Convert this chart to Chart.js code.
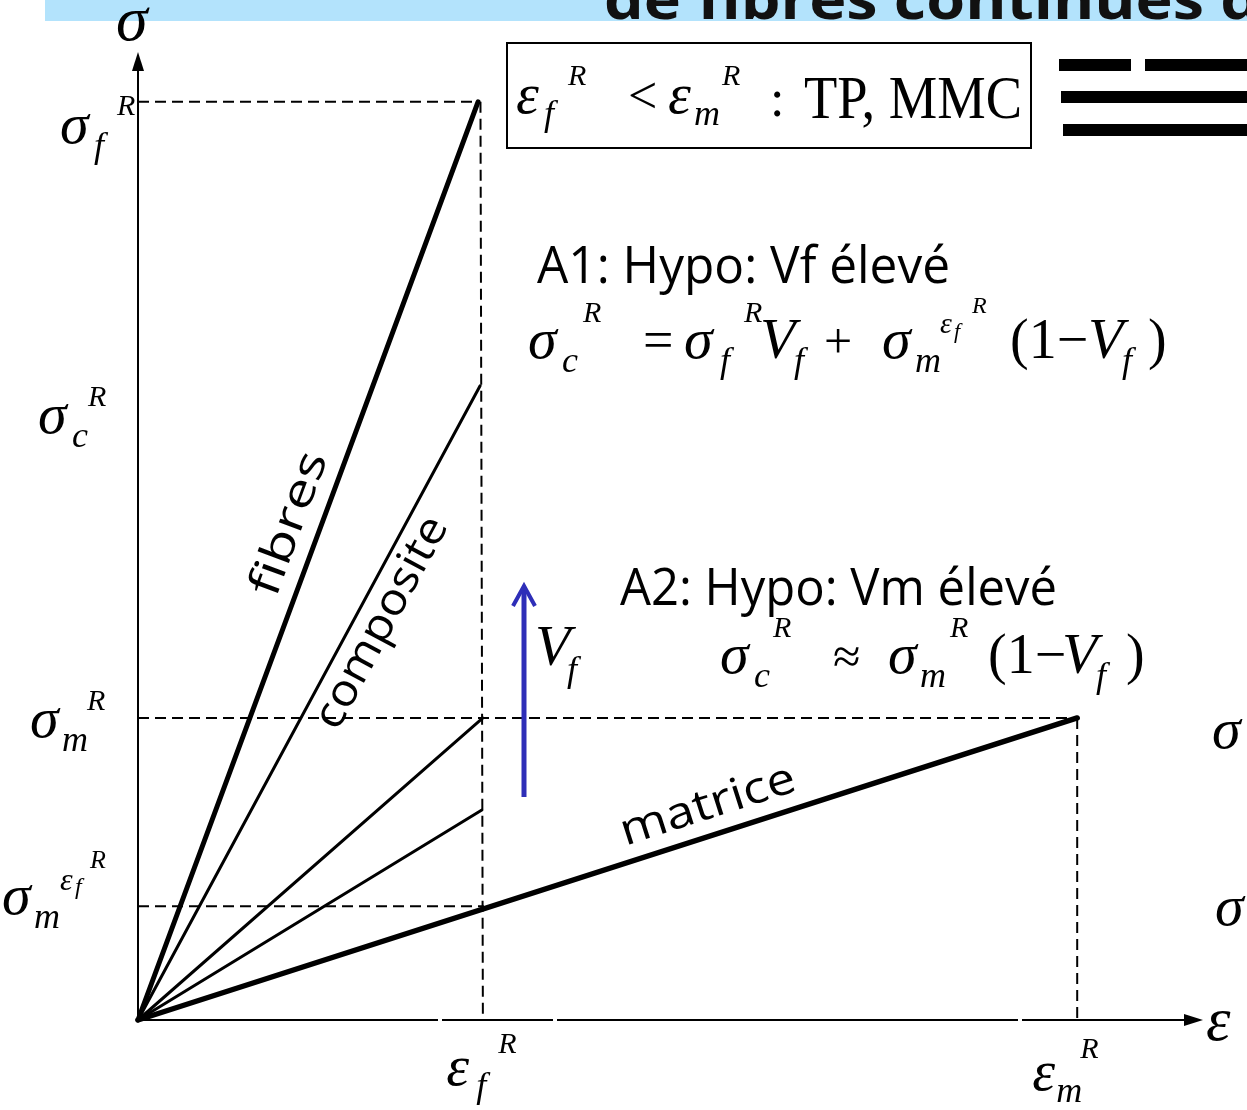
<!DOCTYPE html>
<html><head><meta charset="utf-8">
<script src="https://cdn.jsdelivr.net/npm/chart.js@4"></script>
<style>html,body{margin:0;padding:0;background:#fff;overflow:hidden}canvas{display:block}</style>
</head><body>
<canvas id="c" width="1247" height="1110"></canvas>
<script>
// ---- data (strain ε in units of εf^R, stress σ in units of σm^R) ----
const curveNames = ['fibres', 'composite', 'composite (Vf moyen)', 'composite (Vf faible)', 'matrice'];
const curveEndStrain = [0.983, 0.989, 0.997, 0.994, 2.715];
const curveEndStress = [3.04, 2.10, 1.00, 0.695, 1.00];
const curveLabels = ['fibres', 'composite', '', '', 'matrice'];

const strainTicks = [0.995, 2.715];            // εf^R, εm^R
const stressTicks = [3.04, 2.10, 1.00, 0.377]; // σf^R, σc^R, σm^R, σm^(εf^R)

const guideFrom = [[0, 3.04], [0.99, 3.04], [0, 1.00], [2.715, 1.00], [0, 0.377]];
const guideTo   = [[0.983, 3.04], [0.997, 0], [2.715, 1.00], [2.715, 0], [1.0, 0.377]];

const headerText = 'de fibres continues d';
const textA1 = 'A1: Hypo: Vf élevé';
const textA2 = 'A2: Hypo: Vm élevé';
const boxText = 'TP, MMC';

// ---- styles ----
const curveWidths = [5, 3, 3, 3, 5.5];
const MATH = '"Liberation Serif", "DejaVu Serif", serif';
const HAND = '"Open Sans", "DejaVu Sans", sans-serif';

const datasets = [];
curveNames.forEach((n, i) => {
  datasets.push({
    label: n,
    data: [{x: 0, y: 0}, {x: curveEndStrain[i], y: curveEndStress[i]}],
    showLine: true, borderColor: '#000', borderWidth: curveWidths[i],
    pointRadius: 0, clip: false, borderCapStyle: 'round', order: 1
  });
});
guideFrom.forEach((p, i) => {
  datasets.push({
    label: 'guide' + i,
    data: [{x: p[0], y: p[1]}, {x: guideTo[i][0], y: guideTo[i][1]}],
    showLine: true, borderColor: '#000', borderWidth: 2, borderDash: [11, 6],
    pointRadius: 0, clip: false, order: 2
  });
});

function put(ctx, s, x, y, size, italic, family) {
  ctx.font = (italic ? 'italic ' : '') + size + 'px ' + (family || MATH);
  ctx.fillText(s, x, y);
}
function fit(ctx, s, x, y, width, font, align) {
  ctx.save();
  ctx.font = font;
  const w = ctx.measureText(s).width;
  ctx.translate(x, y);
  ctx.scale(width / w, 1);
  ctx.textAlign = align || 'left';
  ctx.fillText(s, 0, 0);
  ctx.restore();
}
// base symbol with subscript & superscript
function sym(ctx, base, sub, sup, x, y, o) {
  o = o || {};
  const bs = o.bs || 58, ss = o.ss || 36, ps = o.ps || 30;
  put(ctx, base, x, y, bs, true);
  if (sub) put(ctx, sub, x + (o.subDx || bs * 0.55), y + (o.subDy || 12), ss, true);
  if (sup) put(ctx, sup, x + (o.supDx || bs * 0.95), y - (o.supDy || 30), ps, true);
}

const deco = {
  id: 'deco',
  beforeDatasetsDraw(chart) {
    const ctx = chart.ctx, xs = chart.scales.x, ys = chart.scales.y;
    const x0 = xs.getPixelForValue(0), y0 = ys.getPixelForValue(0);
    const xe = xs.getPixelForValue(xs.max), ye = ys.getPixelForValue(ys.max);
    ctx.save();
    ctx.fillStyle = '#fff'; ctx.fillRect(0, 0, chart.width, chart.height);
    // header band
    ctx.fillStyle = '#b3e3fc'; ctx.fillRect(45, 0, chart.width - 45, 21);
    ctx.fillStyle = '#111';
    ctx.font = 'bold 56px ' + HAND;
    const wPart = ctx.measureText('de fibres continues').width;
    ctx.save(); ctx.translate(604, 19); ctx.scale(600 / wPart, 1); ctx.fillText(headerText, 0, 0); ctx.restore();
    // axes
    ctx.strokeStyle = '#000'; ctx.lineWidth = 2;
    ctx.beginPath(); ctx.moveTo(x0, y0 + 1); ctx.lineTo(x0, ye + 14); ctx.stroke();
    ctx.fillStyle = '#000';
    ctx.beginPath(); ctx.moveTo(x0, ye - 3); ctx.lineTo(x0 - 6, ye + 16); ctx.lineTo(x0 + 6, ye + 16); ctx.closePath(); ctx.fill();
    ctx.beginPath(); ctx.moveTo(x0 - 2, y0); ctx.lineTo(xe - 12, y0); ctx.stroke();
    ctx.beginPath(); ctx.moveTo(xe + 3, y0); ctx.lineTo(xe - 16, y0 - 6); ctx.lineTo(xe - 16, y0 + 6); ctx.closePath(); ctx.fill();
    ctx.fillStyle = '#fff';
    [438, 553, 1018].forEach(g => ctx.fillRect(g, y0 - 2, 4, 4));
    ctx.restore();
  },
  afterDatasetsDraw(chart) {
    const ctx = chart.ctx, xs = chart.scales.x, ys = chart.scales.y;
    const px = v => xs.getPixelForValue(v), py = v => ys.getPixelForValue(v);
    const x0 = px(0), y0 = py(0), xe = px(xs.max), ye = py(ys.max);
    ctx.save();
    ctx.fillStyle = '#000'; ctx.textAlign = 'left'; ctx.textBaseline = 'alphabetic';
    // axis titles
    put(ctx, 'σ', x0 - 22, 40, 64, true);
    put(ctx, 'ε', xe + 6, y0 + 20, 62, true);
    // stress tick labels
    sym(ctx, 'σ', 'f', 'R', 60, py(stressTicks[0]) + 41, {subDx: 34, subDy: 14, supDx: 57, supDy: 28});
    sym(ctx, 'σ', 'c', 'R', 38, py(stressTicks[1]) + 47, {subDx: 34, subDy: 14, supDx: 50, supDy: 27});
    sym(ctx, 'σ', 'm', 'R', 30, py(stressTicks[2]) + 19, {subDx: 32, subDy: 14, supDx: 57, supDy: 27});
    sym(ctx, 'σ', 'm', null, 2, py(stressTicks[3]) + 8, {subDx: 32, subDy: 14});
    put(ctx, 'ε', 60, py(stressTicks[3]) - 16, 32, true);
    put(ctx, 'f', 75, py(stressTicks[3]) - 12, 24, true);
    put(ctx, 'R', 90, py(stressTicks[3]) - 38, 26, true);
    // strain tick labels
    sym(ctx, 'ε', 'f', 'R', px(strainTicks[0]) - 36, y0 + 65, {subDx: 30, subDy: 12, supDx: 52, supDy: 32});
    sym(ctx, 'ε', 'm', 'R', px(strainTicks[1]) - 45, y0 + 70, {subDx: 24, subDy: 12, supDx: 48, supDy: 32});
    // right-edge partial labels
    put(ctx, 'σ', 1212, 748, 58, true);
    put(ctx, 'σ', 1215, 925, 58, true);
    // curve labels
    ctx.fillStyle = '#000';
    const centers = [[290, 524], [382, 623], null, null, [708, 806]];
    const lens = [150, 235, 0, 0, 182];
    curveLabels.forEach((lab, i) => {
      if (!lab) return;
      const a = Math.atan2(py(curveEndStress[i]) - y0, px(curveEndStrain[i]) - x0);
      ctx.save();
      ctx.translate(centers[i][0], centers[i][1]);
      ctx.rotate(a);
      ctx.font = '500 44px ' + HAND;
      const w = ctx.measureText(lab).width;
      ctx.scale(lens[i] / w, 1);
      ctx.textAlign = 'center'; ctx.textBaseline = 'middle';
      ctx.fillText(lab, 0, 0);
      ctx.restore();
    });
    // box
    ctx.strokeStyle = '#000'; ctx.lineWidth = 2;
    ctx.strokeRect(507, 43, 524, 105);
    sym(ctx, 'ε', 'f', 'R', 516, 113, {bs: 58, subDx: 28, subDy: 12, supDx: 52, supDy: 28});
    put(ctx, '<', 628, 113, 52, false);
    sym(ctx, 'ε', 'm', 'R', 668, 113, {bs: 58, subDx: 26, subDy: 12, supDx: 54, supDy: 28});
    put(ctx, ':', 770, 116, 52, false);
    fit(ctx, boxText, 804, 118, 218, '62px ' + MATH);
    // top-right bars
    ctx.fillStyle = '#000';
    ctx.fillRect(1059, 59, 72, 12);
    ctx.fillRect(1145, 59, 110, 12);
    ctx.fillRect(1061, 91, 190, 12);
    ctx.fillRect(1063, 124, 190, 12);
    // A1
    fit(ctx, textA1, 537, 283, 413, '500 52px ' + HAND);
    sym(ctx, 'σ', 'c', 'R', 528, 358, {subDx: 34, subDy: 14, supDx: 55, supDy: 36});
    put(ctx, '=', 643, 358, 54, false);
    sym(ctx, 'σ', 'f', 'R', 684, 358, {subDx: 36, subDy: 14, supDx: 60, supDy: 36});
    sym(ctx, 'V', 'f', null, 760, 358, {subDx: 34, subDy: 14});
    put(ctx, '+', 824, 358, 50, false);
    sym(ctx, 'σ', 'm', null, 882, 358, {subDx: 33, subDy: 14});
    put(ctx, 'ε', 940, 333, 30, true);
    put(ctx, 'f', 954, 338, 22, true);
    put(ctx, 'R', 972, 313, 24, true);
    put(ctx, '(1−', 1010, 358, 56, false);
    sym(ctx, 'V', 'f', null, 1088, 358, {subDx: 34, subDy: 14});
    put(ctx, ')', 1148, 358, 56, false);
    // A2
    fit(ctx, textA2, 620, 605, 437, '500 52px ' + HAND);
    sym(ctx, 'V', 'f', null, 535, 665, {subDx: 32, subDy: 16});
    sym(ctx, 'σ', 'c', 'R', 720, 673, {subDx: 34, subDy: 14, supDx: 53, supDy: 36});
    put(ctx, '≈', 833, 673, 50, false);
    sym(ctx, 'σ', 'm', 'R', 888, 673, {subDx: 32, subDy: 14, supDx: 62, supDy: 36});
    put(ctx, '(1−', 988, 673, 56, false);
    sym(ctx, 'V', 'f', null, 1062, 673, {subDx: 34, subDy: 14});
    put(ctx, ')', 1126, 673, 56, false);
    // Vf arrow (blue)
    ctx.strokeStyle = '#2e2eb8'; ctx.lineWidth = 5; ctx.lineCap = 'butt';
    ctx.beginPath(); ctx.moveTo(524, 797); ctx.lineTo(524, 588); ctx.stroke();
    ctx.lineWidth = 4;
    ctx.beginPath(); ctx.moveTo(513, 606); ctx.lineTo(524, 586); ctx.lineTo(535, 606); ctx.stroke();
    ctx.restore();
  }
};

new Chart(document.getElementById('c'), {
  type: 'scatter',
  data: { datasets },
  options: {
    responsive: false, animation: false, devicePixelRatio: 1,
    layout: { padding: { left: 138, right: 47, top: 55, bottom: 90 } },
    plugins: { legend: { display: false }, tooltip: { enabled: false } },
    scales: {
      x: { type: 'linear', min: 0, max: 3.07, display: false },
      y: { type: 'linear', min: 0, max: 3.195, display: false }
    }
  },
  plugins: [deco]
});
</script>
</body></html>
